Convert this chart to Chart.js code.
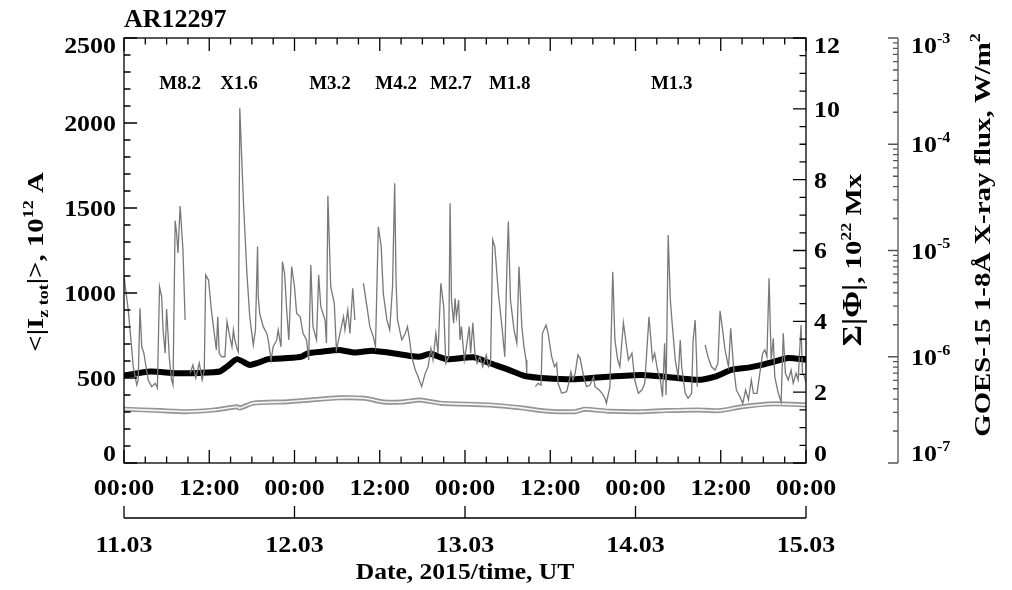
<!DOCTYPE html>
<html>
<head>
<meta charset="utf-8">
<script src="https://cdn.jsdelivr.net/npm/chart.js@4.4.1/dist/chart.umd.min.js"></script>
<style>
  html, body { margin: 0; padding: 0; background: #fff; }
  canvas { display: block; }
</style>
</head>
<body>
<canvas id="chart" width="1012" height="590"></canvas>
<script>
// ========== AR12297: current, magnetic flux, GOES X-ray ==========
// time axis in hours since 11.03.2015 00:00 UT

// <|Iz tot|>, 10^12 A (left axis)
const currentHours = [0, 3.7, 7.2, 10.7, 13.5, 14.5, 15.9, 17.7, 18.7, 20.3, 23.1, 25.0, 25.9, 27.8, 30.2, 32.5, 34.9, 37.2, 40.3, 41.7,
  43.1, 45.4, 49.2, 51.5, 53.9, 56.4, 59.3, 63.5, 68.2, 72.9, 76.2, 80.8, 83.2, 85.5, 87.9, 89.8, 91.6, 93.5, 96];
const currentIz = [515, 538, 528, 530, 538, 567, 611, 577, 587, 611, 617, 626, 646, 655, 665, 650, 661, 650, 630, 626,
  642, 611, 622, 587, 552, 512, 499, 493, 508, 518, 508, 489, 508, 548, 561, 577, 597, 617, 607];

// sum |Phi|, 10^22 Mx (right axis)
const fluxHours = [0, 5.1, 8.8, 12.8, 15.9, 16.3, 18.2, 23.1, 26.2, 30.2, 33.9, 36.3, 38.9, 41.7,
  44.5, 51.5, 56.2, 59.3, 63.5, 64.9, 68.4, 72.9, 76.2, 80.8, 83.9, 87.0, 91.6, 96];
const fluxPhi = [1.52, 1.48, 1.45, 1.50, 1.59, 1.55, 1.69, 1.73, 1.78, 1.84, 1.83, 1.73, 1.72, 1.78,
  1.69, 1.64, 1.55, 1.47, 1.45, 1.52, 1.46, 1.45, 1.48, 1.50, 1.48, 1.59, 1.67, 1.64];

// GOES-15 1-8 A flux, in 10^-6 W/m^2 (null = data gap)
const goesHours = [
  0, 0.6, 1.1, 1.3, 1.8, 2.0, 2.25, 2.5, 2.8, 3.1,
  3.4, 3.9, 4.4, 4.7, 5.0, 5.3, 5.5, 5.8, 6.0, 6.4,
  6.7, 6.9, 7.2, 7.4, 7.6, 7.9, 8.3, 8.6, 8.9, 9.3,
  9.7, 10.1, 10.6, 11.0, 11.3, 11.5, 11.9, 12.3, 12.7, 13.0,
  13.2, 13.4, 13.75, 14.2, 14.5, 14.9, 15.2, 15.4, 15.6, 15.9,
  16.1, 16.3, 16.8, 17.3, 17.7, 18.2, 18.5, 18.8, 18.9, 19.1,
  19.6, 20.1, 20.3, 20.7, 21.0, 21.5, 21.7, 22.1, 22.3, 22.6,
  22.9, 23.2, 23.6, 24.0, 24.3, 24.8, 25.2, 25.7, 26.0, 26.3,
  26.6, 27.1, 27.4, 27.7, 28.3, 28.5, 28.7, 29.1, 29.6, 29.9,
  30.4, 30.9, 31.1, 31.5, 31.8, 32.2, 32.5, 33.1, 33.7, 34.2,
  34.6, 35.1, 35.4, 35.8, 36.2, 36.5, 37.0, 37.4, 37.8, 38.1,
  38.3, 38.5, 38.9, 39.1, 39.6, 39.9, 40.2, 40.5, 41.0, 41.4,
  41.9, 42.4, 42.8, 43.2, 43.5, 43.9, 44.2, 44.6, 45.0, 45.3,
  45.7, 45.9, 46.1, 46.4, 46.6, 46.8, 47.1, 47.3, 47.5, 47.9,
  48.2, 48.6, 48.8, 49.1, 49.4, 49.7, 50.1, 50.5, 51.0, 51.3,
  51.6, 51.9, 52.2, 52.7, 53.2, 53.6, 53.9, 54.1, 54.4, 54.9,
  55.3, 55.6, 56.0, 56.3, 56.6, 56.7, 57.3, 57.9, 58.3, 58.7,
  58.9, 59.4, 59.7, 60.2, 60.6, 60.9, 61.1, 61.6, 62.3, 62.6,
  62.9, 63.2, 63.5, 63.9, 64.2, 64.7, 65.1, 65.6, 66.1, 66.3,
  66.9, 67.3, 67.7, 67.9, 68.4, 68.8, 69.1, 69.5, 69.8, 70.3,
  70.5, 71.0, 71.5, 71.9, 72.4, 72.9, 73.3, 73.9, 74.4, 74.7,
  75.1, 75.5, 75.8, 76.1, 76.3, 76.6, 76.9, 77.2, 77.6, 78.0,
  78.3, 78.5, 79.0, 79.4, 79.9, 80.1, 80.4, 80.6, 80.7, 81.2,
  81.8, 82.2, 82.7, 83.2, 83.6, 83.9, 84.2, 84.6, 85.1, 85.4,
  85.8, 86.2, 86.7, 87.1, 87.5, 87.9, 88.3, 88.6, 89.1, 89.5,
  89.9, 90.2, 90.5, 90.8, 91.1, 91.4, 91.6, 92.1, 92.5, 92.8,
  93.1, 93.5, 93.9, 94.2, 94.6, 94.9, 95.3, 95.5, 95.8, 96.0,
];
const goesFlux = [
  5.75, 2.75, 1.16, 0.805, 0.542, 0.604, 2.86, 1.24, 1.08, 0.805,
  0.604, 0.523, 0.562, 0.508, 4.56, 3.67, 1.79, 1.08, 2.81, 0.931,
  0.604, 0.542, 19.1, 14.6, 9.47, 26.2, 10.1, 2.22, null, 0.698,
  0.836, 0.631, 0.873, 0.604, 0.75, 5.88, 5.27, 2.75, 1.67, 1.16,
  2.38, 1.08, 1.0, 1.0, 2.14, 1.54, 1.24, 1.79, 1.44, 1.2,
  1.11, 218, 29.9, 6.1, 2.38, 1.29, 1.79, 10.9, 3.67, 2.56,
  1.92, 1.66, 1.44, 0.931, 1.24, 1.44, 1.79, 1.24, 7.85, 6.1,
  2.75, 1.44, 7.05, 4.56, 2.56, 2.38, 1.66, 1.44, 0.931, 7.31,
  1.92, 1.44, 5.88, 2.96, 2.22, 1.34, 32.8, 4.56, 3.18, 1.16,
  1.66, 2.38, 1.79, 2.75, 1.66, 4.41, 2.22, null, 4.91, 2.96,
  1.92, 1.54, 1.24, 16.7, 10.9, 3.95, 2.22, 1.79, 4.56, 42.9,
  4.91, 2.22, 1.66, 1.44, 1.66, 1.92, 1.44, 1.0, 0.75, 0.649,
  0.523, 0.698, 0.805, 1.2, 0.931, 1.66, 1.08, 4.91, 2.96, 0.867,
  1.0, 27.8, 3.42, 2.07, 3.55, 2.38, 3.42, 1.44, 1.92, 0.931,
  1.24, 1.92, 1.08, 2.09, 1.08, 0.867, 1.0, 0.805, 1.04, 0.805,
  0.867, 12.6, 10.9, 3.95, 1.92, 1.0, 7.05, 18.7, 3.42, 1.79,
  1.34, 7.05, 1.92, 1.24, 0.931, 0.698, null, 0.523, 0.562, 0.542,
  1.66, 1.99, 1.66, 1.0, 0.805, 0.867, 0.562, 0.453, 0.469, 0.562,
  0.723, 0.604, 0.698, 1.04, 0.966, 0.649, 0.523, 0.542, 0.649, 0.523,
  0.486, 0.453, 0.406, 0.365, 0.523, 6.31, 1.44, 0.931, 0.805, 2.09,
  1.66, 0.931, 1.08, 0.604, 0.453, 0.486, 0.562, 2.38, 0.931, 1.08,
  0.75, 0.604, 0.421, 1.34, 0.436, 14.0, 3.42, 1.92, 0.931, 0.649,
  1.44, 0.805, 0.453, 0.406, 0.453, 1.39, 2.22, 0.931, 0.523, null,
  1.29, 1.0, 0.805, 0.75, 0.867, 2.71, 1.92, 1.16, 0.805, 1.85,
  0.805, 0.486, 0.421, 0.365, 0.486, 0.392, 0.604, 0.453, 0.453, 0.698,
  1.08, 1.16, 1.0, 5.47, 0.931, 1.49, 0.649, 0.453, 0.377, 1.66,
  0.698, 0.604, 0.75, 0.562, 0.698, 0.604, 1.99, 0.698, 0.649, 0.562,
];

// flare labels
const flareNames = ["M8.2", "X1.6", "M3.2", "M4.2", "M2.7", "M1.8", "M1.3"];
const flareHours = [7.9, 16.2, 29.0, 38.3, 46.0, 54.3, 77.1];

// tick labels
const timeTicks = [0, 12, 24, 36, 48, 60, 72, 84, 96];
const timeLabels = ["00:00", "12:00", "00:00", "12:00", "00:00", "12:00", "00:00", "12:00", "00:00"];
const dayTicks = [0, 24, 48, 72, 96];
const dayLabels = ["11.03", "12.03", "13.03", "14.03", "15.03"];
const currentTicks = [0, 500, 1000, 1500, 2000, 2500];
const fluxTicks = [0, 2, 4, 6, 8, 10, 12];
const goesExponents = [-7, -6, -5, -4, -3];

const SERIF = '"Liberation Serif", "Times New Roman", serif';
const font = (size) => `bold ${size}px ${SERIF}`;

function toPoints(xs, ys, k = 1) {
  return xs.map((h, i) => ({ x: h, y: ys[i] == null ? null : ys[i] * k }));
}

// text with sub/superscripts: parts = [[text, ""|"sup"|"sub", size?], ...]
function partSize(size, part) {
  if (part[2]) return part[2];
  return part[1] ? Math.round(size * 0.64) : size;
}
function richWidth(ctx, parts, size) {
  let w = 0;
  parts.forEach((p) => {
    ctx.font = font(partSize(size, p));
    w += ctx.measureText(p[0]).width;
  });
  return w;
}
// draws at (x, y) baseline, text stretched horizontally by sx
function drawRich(ctx, parts, x, y, size, align, sx = 1) {
  const w = richWidth(ctx, parts, size) * sx;
  const x0 = align === "center" ? x - w / 2 : align === "right" ? x - w : x;
  ctx.save();
  ctx.translate(x0, y);
  ctx.scale(sx, 1);
  ctx.textAlign = "left";
  ctx.textBaseline = "alphabetic";
  let cx = 0;
  parts.forEach((p) => {
    ctx.font = font(partSize(size, p));
    const dy = p[1] === "sup" ? -size * 0.42 : p[1] === "sub" ? size * 0.22 : 0;
    ctx.fillText(p[0], cx, dy);
    cx += ctx.measureText(p[0]).width;
  });
  ctx.restore();
}
function drawRichVertical(ctx, parts, cx, cy, size, sx) {
  ctx.save();
  ctx.translate(cx, cy);
  ctx.rotate(-Math.PI / 2);
  drawRich(ctx, parts, 0, size * 0.33, size, "center", sx);
  ctx.restore();
}
function label(ctx, text, x, y, size, align, sx = 1.08) {
  drawRich(ctx, [[text, ""]], x, y + size * 0.33, size, align, sx);
}

// all frame, ticks and labels drawn from the chart's scales
const framePlugin = {
  id: "frame",
  afterDatasetsDraw(chart) {
    const { ctx, chartArea: a, scales } = chart;
    const sx = scales.x, sI = scales.yI, sP = scales.yPhi, sG = scales.yGoes;
    // end labels are kept inside the frame, as in the original plot
    const keepIn = (py) => Math.min(Math.max(py, a.top + 7), a.bottom - 10);
    ctx.save();
    ctx.strokeStyle = "#000";
    ctx.fillStyle = "#000";
    ctx.lineWidth = 1.3;
    ctx.strokeRect(a.left, a.top, a.right - a.left, a.bottom - a.top);

    ctx.beginPath();
    for (let h = 0; h <= 96; h += 3) {
      const px = sx.getPixelForValue(h);
      const len = h % 12 === 0 ? 13 : 6.5;
      ctx.moveTo(px, a.bottom);
      ctx.lineTo(px, a.bottom - len);
      ctx.moveTo(px, a.top);
      ctx.lineTo(px, a.top + len);
    }
    for (let v = 0; v <= 2500; v += 100) {
      const py = sI.getPixelForValue(v);
      ctx.moveTo(a.left, py);
      ctx.lineTo(a.left + (v % 500 === 0 ? 13 : 6.5), py);
    }
    for (let v = 0; v <= 12; v += 0.5) {
      const py = sP.getPixelForValue(v);
      ctx.moveTo(a.right, py);
      ctx.lineTo(a.right - (v % 2 === 0 ? 13 : 6.5), py);
    }
    // date axis under the time labels
    const dateY = a.bottom + 55;
    ctx.moveTo(a.left, dateY);
    ctx.lineTo(a.right, dateY);
    dayTicks.forEach((h) => {
      const px = sx.getPixelForValue(h);
      ctx.moveTo(px, dateY);
      ctx.lineTo(px, dateY - 12);
    });
    ctx.stroke();

    // GOES log axis
    const gx = a.right + 92;
    ctx.strokeStyle = "#555";
    ctx.beginPath();
    ctx.moveTo(gx, sG.getPixelForValue(1e-3));
    ctx.lineTo(gx, sG.getPixelForValue(1e-7));
    goesExponents.forEach((e) => {
      const steps = e === -3 ? [1] : [1, 2, 3, 4, 5, 6, 7, 8, 9];
      steps.forEach((m) => {
        const py = sG.getPixelForValue(m * Math.pow(10, e));
        ctx.moveTo(gx, py);
        ctx.lineTo(gx - (m === 1 ? 10 : 5), py);
      });
    });
    ctx.stroke();

    // tick labels
    currentTicks.forEach((v) => label(ctx, String(v), a.left - 8, keepIn(sI.getPixelForValue(v)), 24, "right"));
    fluxTicks.forEach((v) => label(ctx, String(v), a.right + 8, keepIn(sP.getPixelForValue(v)), 24, "left"));
    timeTicks.forEach((h, i) => label(ctx, timeLabels[i], sx.getPixelForValue(h), a.bottom + 24, 24, "center"));
    dayTicks.forEach((h, i) => label(ctx, dayLabels[i], sx.getPixelForValue(h), a.bottom + 81, 24, "center"));
    goesExponents.forEach((e) => {
      const py = keepIn(sG.getPixelForValue(Math.pow(10, e)));
      drawRich(ctx, [["10", ""], [String(e), "sup"]], gx + 13, py + 8, 24, "left", 1.08);
    });

    // flare classes
    flareNames.forEach((n, i) => label(ctx, n, sx.getPixelForValue(flareHours[i]), a.top + 45, 19, "center", 1));

    // titles
    label(ctx, "AR12297", a.left, 18, 26, "left", 1);
    label(ctx, "Date, 2015/time, UT", (a.left + a.right) / 2, a.bottom + 108, 24, "center", 1.065);
    drawRichVertical(ctx, [["<|I", ""], ["z tot", "sub"], ["|>, 10", ""], ["12", "sup"], [" A", ""]], 35, 262, 24, 1.2);
    drawRichVertical(ctx, [["\u03A3|\u03A6|", "", 27], [", 10", ""], ["22", "sup"], [" Mx", ""]], a.right + 47, 260, 24, 1.2);
    drawRichVertical(ctx, [["GOES-15 1-8\u00C5 X-ray flux, W/m", ""], ["2", "sup"]], gx + 84, 235, 24, 1.2);
    ctx.restore();
  },
};

const ctx = document.getElementById("chart").getContext("2d");
new Chart(ctx, {
  type: "line",
  data: {
    datasets: [
      {
        label: "GOES-15",
        data: toPoints(goesHours, goesFlux, 1e-6),
        yAxisID: "yGoes",
        borderColor: "#787878",
        borderWidth: 1.3,
        spanGaps: false,
        order: 0,
      },
      {
        label: "<|Iz tot|>",
        data: toPoints(currentHours, currentIz),
        yAxisID: "yI",
        borderColor: "#000",
        borderWidth: 6,
        tension: 0.2,
        order: 1,
      },
      {
        label: "sum |Phi| inner",
        data: toPoints(fluxHours, fluxPhi),
        yAxisID: "yPhi",
        borderColor: "#f4f4f4",
        borderWidth: 1.6,
        tension: 0.2,
        order: 2,
      },
      {
        label: "sum |Phi|",
        data: toPoints(fluxHours, fluxPhi),
        yAxisID: "yPhi",
        borderColor: "#959595",
        borderWidth: 5,
        tension: 0.2,
        order: 3,
      },
    ],
  },
  options: {
    responsive: false,
    animation: false,
    layout: { padding: { left: 124, right: 206, top: 38, bottom: 127 } },
    elements: { point: { radius: 0 }, line: { tension: 0 } },
    plugins: { legend: { display: false }, tooltip: { enabled: false } },
    scales: {
      x: { type: "linear", min: 0, max: 96, display: false },
      yI: { type: "linear", min: 0, max: 2500, display: false },
      yPhi: { type: "linear", min: 0, max: 12, display: false },
      yGoes: { type: "logarithmic", min: 1e-7, max: 1e-3, display: false },
    },
  },
  plugins: [framePlugin],
});
</script>
</body>
</html>
